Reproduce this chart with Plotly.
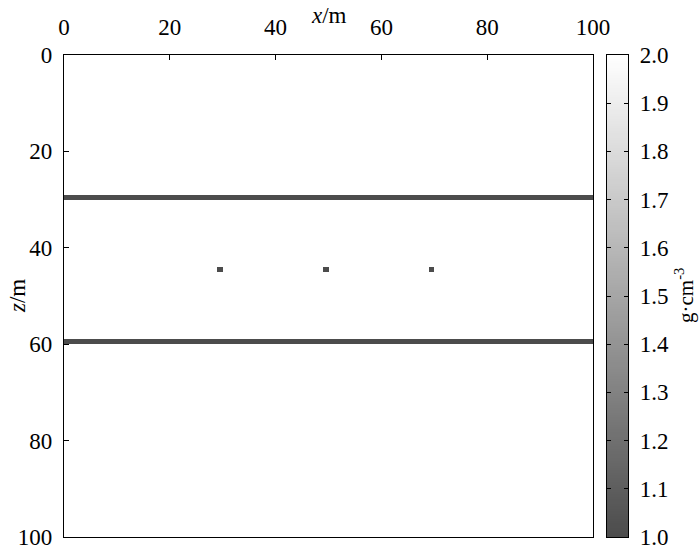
import numpy as np
import plotly.graph_objects as go

# density model: background, layer boundaries and small anomalies (g/cm^3)
nx, nz = 100, 100
background = 2.0
layer_depths = [30, 60]          # z/m of the thin low-density layers
layer_value = 1.0
anomaly_x = [30, 50, 70]         # x/m of the small blocks
anomaly_z = [45, 45, 45]         # z/m of the small blocks
anomaly_value = 1.0
axis_ticks = [0, 20, 40, 60, 80, 100]
cbar_ticks = [1.0, 1.1, 1.2, 1.3, 1.4, 1.5, 1.6, 1.7, 1.8, 1.9, 2.0]

x = np.arange(nx) + 0.5
z = np.arange(nz) + 0.5
model = np.full((nz, nx), background)
for d in layer_depths:
    model[d - 1, :] = layer_value
for xa, za in zip(anomaly_x, anomaly_z):
    model[za - 1, xa - 1] = anomaly_value

serif = "Liberation Serif"
font = dict(family=serif, size=23, color="black")
gray = [[0, "rgb(76,76,76)"], [1, "rgb(255,255,255)"]]

fig = go.Figure()
fig.add_trace(go.Heatmap(
    x=x, y=z, z=model, zmin=1.0, zmax=2.0,
    colorscale=gray, showscale=False, hoverinfo="skip",
))

# colour bar drawn as its own narrow heatmap so ticks can sit on both edges
cb_levels = np.linspace(1.0, 2.0, 201)
fig.add_trace(go.Heatmap(
    x=[0], y=cb_levels, z=cb_levels.reshape(-1, 1), zmin=1.0, zmax=2.0,
    colorscale=gray, showscale=False, hoverinfo="skip",
    xaxis="x2", yaxis="y2",
))

# axis titles
fig.add_annotation(x=0.5, y=1, xref="x domain", yref="paper", yshift=40,
                   xanchor="center", yanchor="middle",
                   text="<i>x</i>/m", showarrow=False,
                   font=dict(family=serif, size=23, color="black"))
fig.add_annotation(x=0, y=0.5, xref="paper", yref="paper", xshift=-47,
                   xanchor="center", yanchor="middle",
                   text="<i>z</i>/m", showarrow=False, textangle=-90,
                   font=dict(family=serif, size=23, color="black"))
fig.add_annotation(x=1, y=0.5, xref="paper", yref="paper", xshift=56,
                   xanchor="center", yanchor="middle",
                   text="g·cm<sup>-3</sup>", showarrow=False, textangle=-90,
                   font=dict(family=serif, size=21, color="black"))

fig.update_layout(
    width=700, height=552,
    margin=dict(l=64, r=72, t=55, b=15, autoexpand=False),
    plot_bgcolor="white", paper_bgcolor="white",
    font=font, showlegend=False,
    xaxis=dict(
        domain=[0, 529 / 564], side="top", range=[0, 100], tickvals=axis_ticks,
        ticks="inside", ticklen=5, tickcolor="black", tickwidth=1.3,
        ticklabelstandoff=10,
        showline=True, linecolor="black", linewidth=1.3, mirror=True,
        showgrid=False, zeroline=False, automargin=False,
    ),
    yaxis=dict(
        range=[100, 0], tickvals=axis_ticks,
        ticks="inside", ticklen=5, tickcolor="black", tickwidth=1.3,
        ticklabelstandoff=6,
        showline=True, linecolor="black", linewidth=1.3, mirror=True,
        showgrid=False, zeroline=False, automargin=False,
    ),
    xaxis2=dict(
        domain=[543 / 564, 1], range=[-0.5, 0.5], anchor="y2",
        showticklabels=False, ticks="",
        showline=True, linecolor="black", linewidth=1.3, mirror=True,
        showgrid=False, zeroline=False, automargin=False,
    ),
    yaxis2=dict(
        domain=[0, 1], range=[1.0, 2.0], anchor="x2", side="right",
        tickvals=cbar_ticks, ticktext=[f"{v:.1f}" for v in cbar_ticks],
        ticks="inside", ticklen=4, tickcolor="black", tickwidth=1.3,
        ticklabelstandoff=6,
        showline=True, linecolor="black", linewidth=1.3, mirror="ticks",
        showgrid=False, zeroline=False, automargin=False,
    ),
)

# drop the browser's default 8 px body margin so the figure fills the window
fig.write_html("out.html", config={"displayModeBar": False},
               post_script="document.body.style.margin = '0px';")
